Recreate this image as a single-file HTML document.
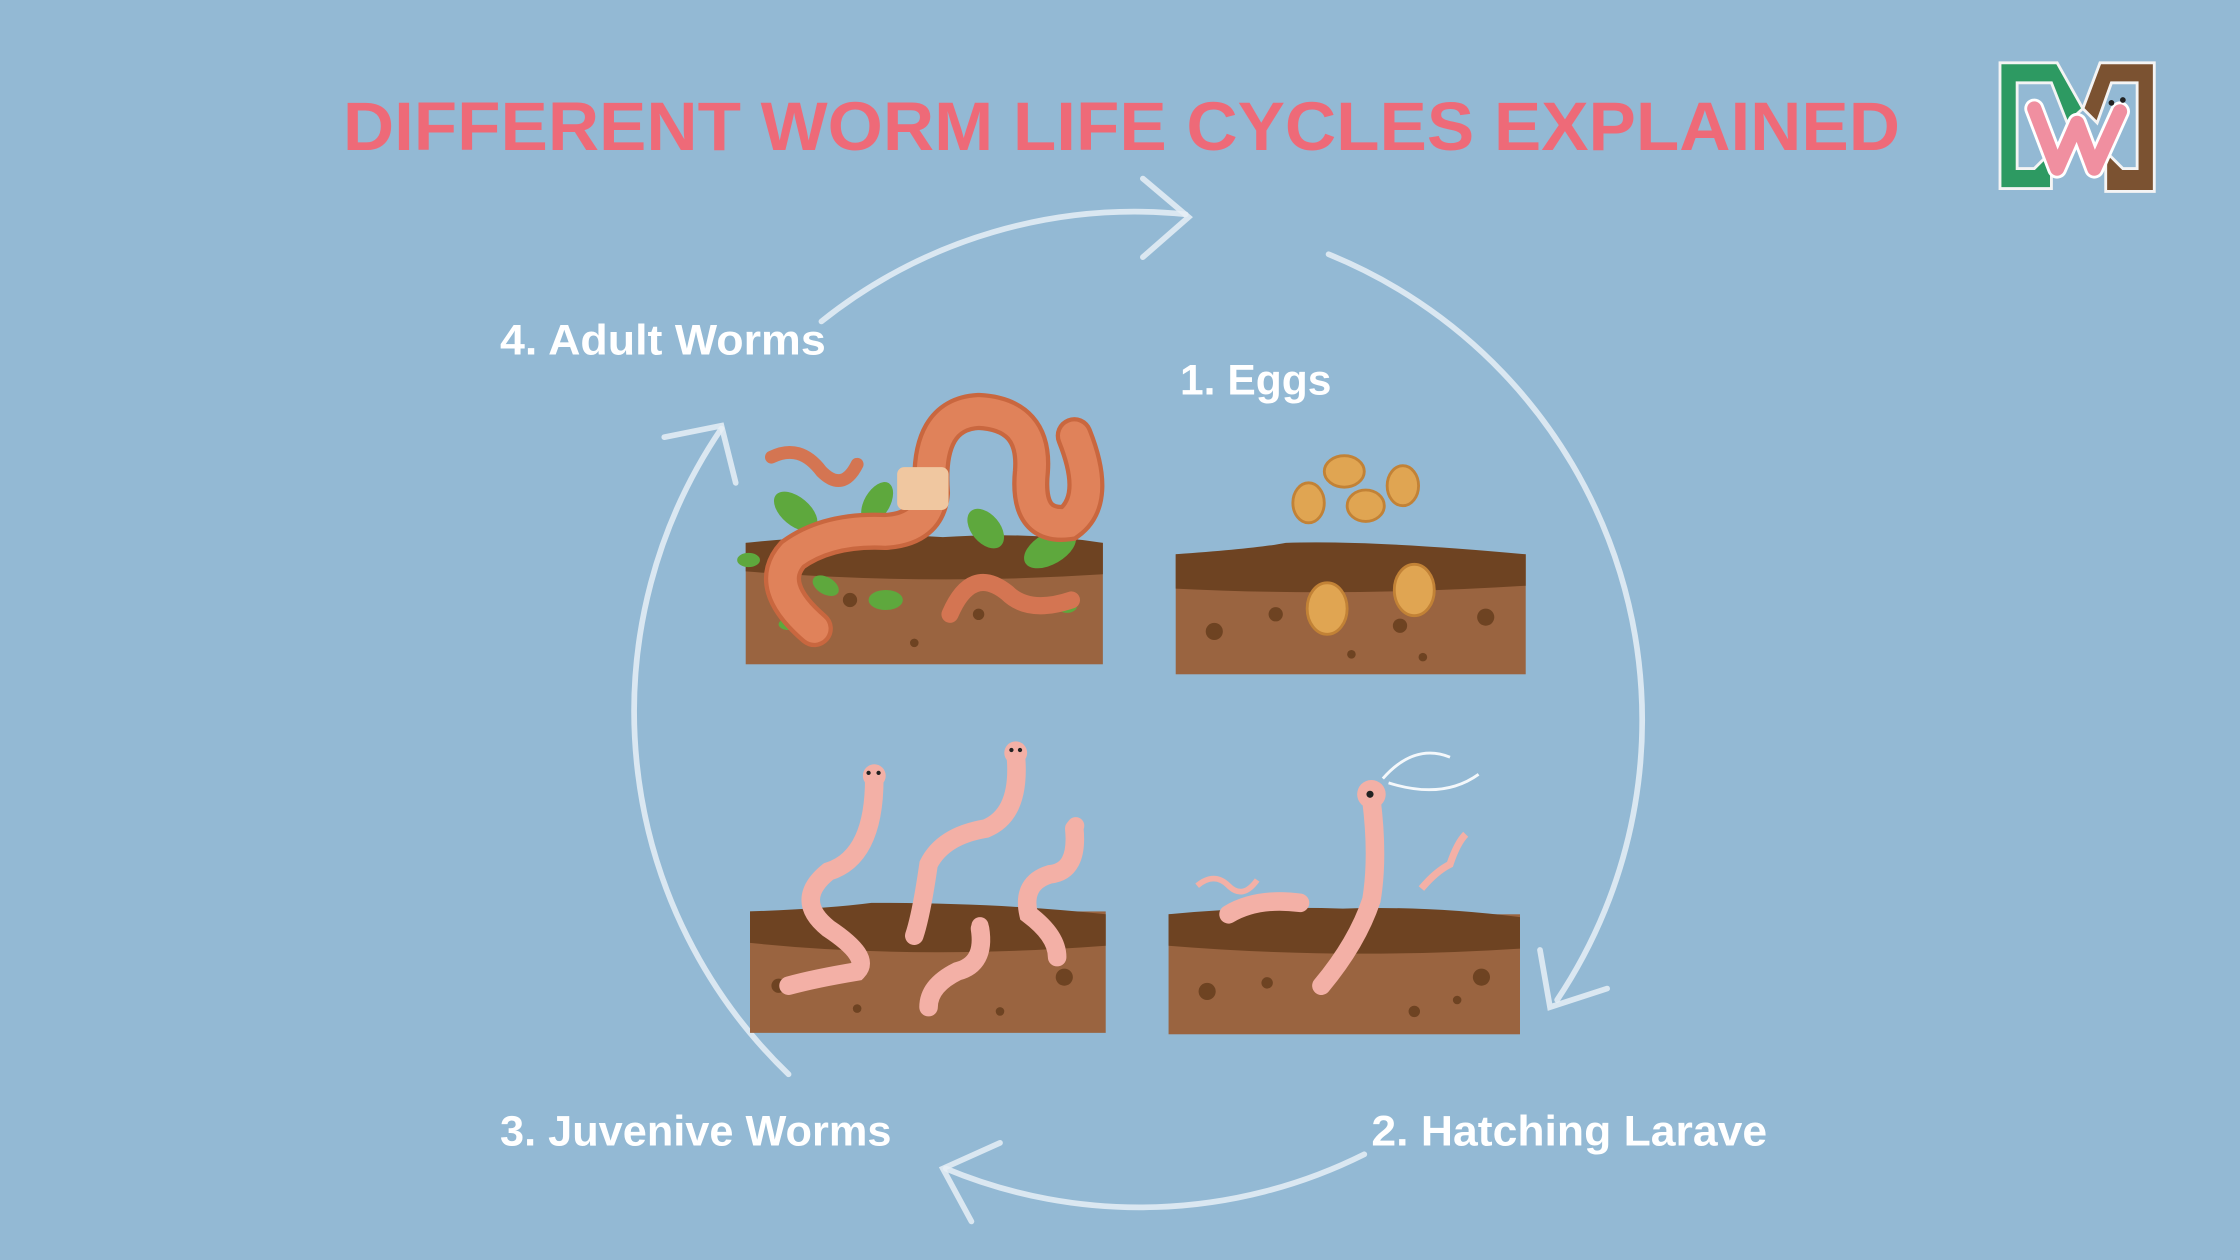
<!DOCTYPE html>
<html><head><meta charset="utf-8"><style>
html,body{margin:0;padding:0;background:#93b9d4;}
svg{display:block;}
</style></head><body>
<svg width="2240" height="1260" viewBox="0 0 1568 882" xmlns="http://www.w3.org/2000/svg">
<rect width="1568" height="882" fill="#93b9d4"/>
<text x="240" y="105" font-family="Liberation Sans, sans-serif" font-weight="bold" font-size="48" fill="#ee6a78" textLength="1090" lengthAdjust="spacingAndGlyphs">DIFFERENT WORM LIFE CYCLES EXPLAINED</text>

<!-- logo -->
<g stroke="#f4f4f4" stroke-width="2">
<path d="M1400 44 H1440 L1458 76 L1447 86 L1436 58 H1412 V118 H1424 L1436 106 V132 H1400 Z" fill="#2d9a62"/>
<path d="M1508 44 H1470 L1458 76 L1468 86 L1478 58 H1496 V118 H1486 L1474 106 V134 H1508 Z" fill="#7b5231"/>
</g>
<path d="M1424 76 L1440 118 L1454 86 L1466 118 L1484 78" stroke="#fff" stroke-width="14" fill="none" stroke-linecap="round" stroke-linejoin="round"/>
<path d="M1424 76 L1440 118 L1454 86 L1466 118 L1484 78" stroke="#f08fa0" stroke-width="10" fill="none" stroke-linecap="round" stroke-linejoin="round"/>
<circle cx="1478" cy="72" r="2" fill="#222"/><circle cx="1486" cy="70" r="2" fill="#222"/>

<!-- cycle arrows -->
<g stroke="#e6eff6" stroke-opacity="0.85" stroke-width="4" fill="none" stroke-linecap="round">
<path d="M575 225 A352 352 0 0 1 830 150"/>
<path d="M800 125 L832 152 L800 180"/>
<path d="M930 178 A352 352 0 0 1 1090 700"/>
<path d="M1078 665 L1085 705 L1125 692"/>
<path d="M955 808 A352 352 0 0 1 662 818"/>
<path d="M700 800 L660 818 L680 855"/>
<path d="M552 752 A352 352 0 0 1 505 300"/>
<path d="M465 306 L505 298 L515 338"/>
</g>

<g font-family="Liberation Sans, sans-serif" font-weight="bold" font-size="30" fill="#fff">
<text x="350" y="248" textLength="228" lengthAdjust="spacingAndGlyphs">4. Adult Worms</text>
<text x="826" y="276" textLength="106" lengthAdjust="spacingAndGlyphs">1. Eggs</text>
<text x="350" y="802" textLength="274" lengthAdjust="spacingAndGlyphs">3. Juvenive Worms</text>
<text x="960" y="802" textLength="277" lengthAdjust="spacingAndGlyphs">2. Hatching Larave</text>
</g>

<!-- soil blocks -->
<g>
<rect x="522" y="380" width="250" height="85" fill="#9a6440"/>
<path d="M522 380 Q600 372 660 376 Q720 372 772 380 V402 Q650 410 522 400 Z" fill="#6e4322"/>
<rect x="823" y="388" width="245" height="84" fill="#9a6440"/>
<path d="M823 388 Q880 384 900 380 Q960 378 1068 388 V410 Q940 418 823 412 Z" fill="#6e4322"/>
<rect x="525" y="638" width="249" height="85" fill="#9a6440"/>
<path d="M525 638 Q580 636 610 632 Q700 632 774 640 V662 Q640 672 525 660 Z" fill="#6e4322"/>
<rect x="818" y="640" width="246" height="84" fill="#9a6440"/>
<path d="M818 640 Q880 634 940 636 Q1000 634 1064 642 V664 Q940 672 818 662 Z" fill="#6e4322"/>
</g>
<g fill="#6e4322">
<circle cx="595" cy="420" r="5"/><circle cx="685" cy="430" r="4"/><circle cx="640" cy="450" r="3"/>
<circle cx="850" cy="442" r="6"/><circle cx="893" cy="430" r="5"/><circle cx="980" cy="438" r="5"/><circle cx="1040" cy="432" r="6"/><circle cx="996" cy="460" r="3"/><circle cx="946" cy="458" r="3"/>
<circle cx="545" cy="690" r="5"/><circle cx="600" cy="706" r="3"/><circle cx="745" cy="684" r="6"/><circle cx="700" cy="708" r="3"/>
<circle cx="845" cy="694" r="6"/><circle cx="1037" cy="684" r="6"/><circle cx="990" cy="708" r="4"/><circle cx="1020" cy="700" r="3"/><circle cx="887" cy="688" r="4"/>
</g>

<!-- leaves -->
<g fill="#5ea83d">
<ellipse cx="557" cy="358" rx="18" ry="10" transform="rotate(40 557 358)"/>
<ellipse cx="614" cy="352" rx="16" ry="9" transform="rotate(-60 614 352)"/>
<ellipse cx="690" cy="370" rx="16" ry="10" transform="rotate(50 690 370)"/>
<ellipse cx="735" cy="384" rx="20" ry="11" transform="rotate(-30 735 384)"/>
<ellipse cx="620" cy="420" rx="12" ry="7"/><ellipse cx="578" cy="410" rx="10" ry="6" transform="rotate(30 578 410)"/>
<ellipse cx="524" cy="392" rx="8" ry="5"/><ellipse cx="747" cy="424" rx="7" ry="5"/><ellipse cx="552" cy="437" rx="7" ry="4"/>
</g>
<!-- adult worms -->
<g fill="none" stroke-linecap="round">
<path d="M570 440 Q535 410 555 388 Q580 370 620 372 Q650 370 652 345 Q648 290 685 288 Q725 290 722 330 Q718 370 748 366 Q770 350 752 305" stroke="#c9673f" stroke-width="26"/>
<path d="M570 440 Q535 410 555 388 Q580 370 620 372 Q650 370 652 345 Q648 290 685 288 Q725 290 722 330 Q718 370 748 366 Q770 350 752 305" stroke="#e0825a" stroke-width="20"/>
<path d="M540 320 Q560 310 575 330 Q590 345 600 325" stroke="#d47552" stroke-width="9"/>
<path d="M665 430 Q680 395 705 415 Q720 430 750 420" stroke="#d47552" stroke-width="12"/>
<rect x="628" y="327" width="36" height="30" rx="5" fill="#f0c7a0" stroke="none"/>
</g>
<!-- eggs -->
<g fill="#e0a552" stroke="#c28236" stroke-width="2">
<ellipse cx="916" cy="352" rx="11" ry="14"/><ellipse cx="941" cy="330" rx="14" ry="11"/><ellipse cx="956" cy="354" rx="13" ry="11"/><ellipse cx="982" cy="340" rx="11" ry="14"/>
<ellipse cx="929" cy="426" rx="14" ry="18"/><ellipse cx="990" cy="413" rx="14" ry="18"/>
</g>
<!-- juvenile worms -->
<g fill="none" stroke="#f3b0a6" stroke-width="13" stroke-linecap="round">
<path d="M612 545 Q612 600 580 610 Q555 630 580 650 Q610 670 600 680 Q570 685 552 690"/>
<path d="M711 528 Q715 570 690 580 Q660 585 650 605 Q645 640 640 655"/>
<path d="M752 580 Q755 610 735 612 Q715 618 720 640 Q740 655 740 670"/>
<path d="M686 650 Q690 675 670 680 Q650 690 650 705"/>
<path d="M960 560 Q965 600 960 630 Q950 660 925 690"/>
<path d="M860 640 Q880 628 910 632"/>
</g>
<g fill="#f3b0a6"><circle cx="612" cy="543" r="8"/><circle cx="711" cy="527" r="8"/><circle cx="753" cy="578" r="6"/><circle cx="686" cy="648" r="6"/><circle cx="960" cy="556" r="10"/></g>
<path d="M838 620 Q850 610 860 620 Q870 630 880 616" stroke="#f3b0a6" stroke-width="4" fill="none"/>
<path d="M995 622 Q1005 610 1015 605 Q1020 590 1026 584" stroke="#f3b0a6" stroke-width="5" fill="none"/>
<path d="M968 545 Q990 520 1015 530 M972 548 Q1010 560 1035 542" stroke="#f4f8fb" stroke-width="2" fill="none"/>
<g fill="#222"><circle cx="608" cy="541" r="1.5"/><circle cx="615" cy="541" r="1.5"/><circle cx="708" cy="525" r="1.5"/><circle cx="714" cy="525" r="1.5"/><circle cx="959" cy="556" r="2.5"/></g>
</svg>
</body></html>
